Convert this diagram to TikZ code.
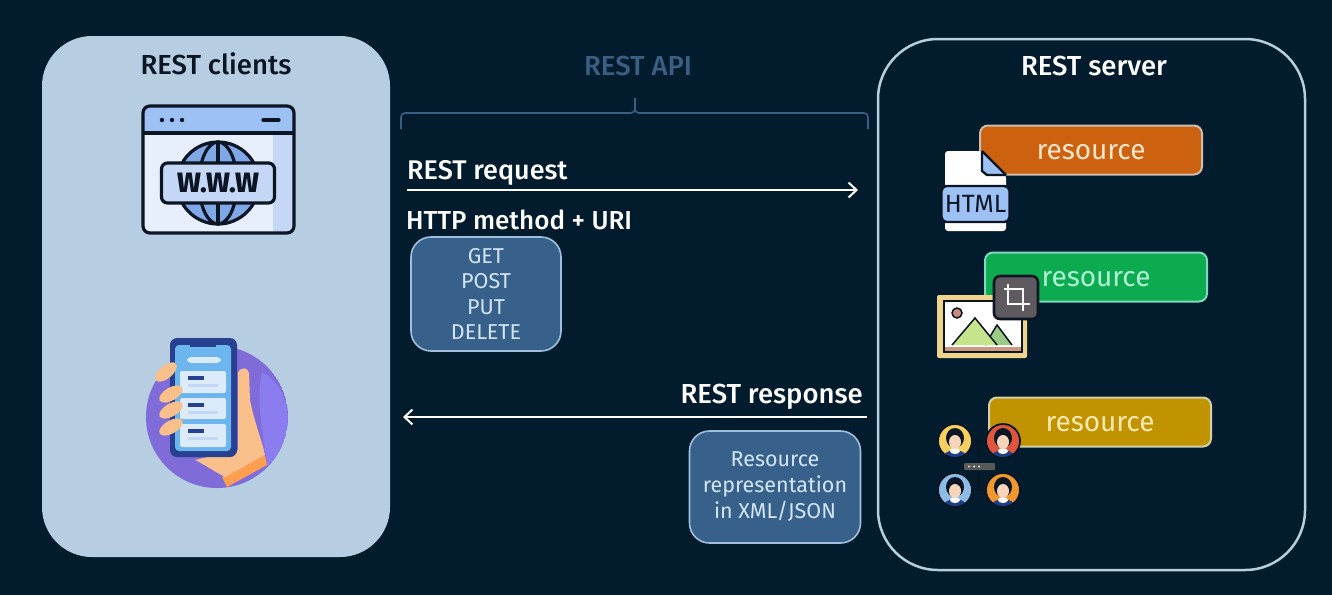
\documentclass[tikz,border=0pt]{standalone}
\usepackage{fontspec}
\usepackage{xcolor}
\usetikzlibrary{arrows.meta}
\setmainfont{Fira Sans Medium}
\newfontfamily\regularface{Fira Sans}
\definecolor{bgNavy}{HTML}{031C2D}
\definecolor{panelBlue}{HTML}{B6CDE2}
\definecolor{serverEdge}{HTML}{B4CFE2}
\definecolor{braceBlue}{HTML}{3A5F82}
\definecolor{boxBlue}{HTML}{37618B}
\definecolor{boxEdge}{HTML}{9FC0DC}
\definecolor{boxText}{HTML}{D3E6F6}
\definecolor{inkDark}{HTML}{0B1524}
\definecolor{barBlue}{HTML}{9DC1F5}
\definecolor{pageBlue}{HTML}{E8EFFC}
\definecolor{shadeBlue}{HTML}{C4D7F6}
\definecolor{globeBlue}{HTML}{7FA9E6}
\definecolor{orangeBox}{HTML}{CC6110}
\definecolor{orangeEdge}{HTML}{CBBDAF}
\definecolor{orangeText}{HTML}{FFE6CC}
\definecolor{greenBox}{HTML}{0CAB50}
\definecolor{greenEdge}{HTML}{7FD8C0}
\definecolor{greenText}{HTML}{B0F2D6}
\definecolor{goldBox}{HTML}{C29300}
\definecolor{goldEdge}{HTML}{CFD0AC}
\definecolor{goldText}{HTML}{FBE9B4}
\definecolor{purpleMain}{HTML}{7F6CD9}
\definecolor{purpleLight}{HTML}{8B7CF0}
\definecolor{phoneDark}{HTML}{27408F}
\definecolor{screenBlue}{HTML}{6DB5EE}
\definecolor{cardPale}{HTML}{DCEBFA}
\definecolor{handPeach}{HTML}{F9C08C}
\definecolor{sleeveOrange}{HTML}{FD9F50}
\definecolor{frameTan}{HTML}{F0D48C}
\definecolor{stripBrown}{HTML}{C99A80}
\definecolor{sunPink}{HTML}{C98A80}
\definecolor{mountGreen}{HTML}{C6E48C}
\definecolor{mountDeep}{HTML}{9CCB86}
\definecolor{badgeGray}{HTML}{5E5A60}
\definecolor{skinPale}{HTML}{F6D5BC}
\definecolor{shirtBlue}{HTML}{1E3F86}
\definecolor{personYellow}{HTML}{F5D060}
\definecolor{personRed}{HTML}{E0553D}
\definecolor{personBlue}{HTML}{8EBBE5}
\definecolor{personOrange}{HTML}{F0982E}

\tikzset{
    titletext/.style={font=\fontsize{27.5}{28}\selectfont, text=white},
    flowtext/.style={font=\fontsize{26}{28}\selectfont, text=white, inner sep=0pt},
    methodbox/.style={draw=boxEdge, fill=boxBlue, line width=1.6pt, rounded corners=20pt, text=boxText, align=center},
    flowarrow/.style={draw=white, line width=2pt, -{Straight Barb[length=8pt,width=15pt,line width=2pt]}},
    icon/.style={draw=inkDark, line width=3.2pt, line join=round}
}

\begin{document}
\begin{tikzpicture}[x=1pt,y=-1pt]

            \newcommand{\ResourceBox}[7]{%
                \node[
                    draw=#4,
                    fill=#3,
                    line width=2pt,
                    rounded corners=8pt,
                    text=#5,
                    minimum width=222pt,
                    minimum height=49pt,
                    text height=18pt,
                    text depth=0pt,
                    font=\regularface\fontsize{28}{28}\selectfont
                ] (#6) at (#1,#2) {#7};
            }
            \newcommand{\PersonIcon}[3]{%
                \fill[#3] (#1,#2) circle (17);
                \begin{scope}
                    \clip (#1,#2) circle (17);
                    \fill[shirtBlue] (#1,#2+17) ellipse (12 and 8);
                    \fill[white] (#1,#2+10) ellipse (5 and 3);
                \end{scope}
                \fill[inkDark] (#1,#2-3) ellipse (9 and 10);
                \fill[skinPale] (#1,#2+1) ellipse (6 and 7);
                \draw[inkDark, line width=1.8pt] (#1,#2) circle (17);
            }

            \fill[bgNavy] (0,0) rectangle (1332,595);
            \useasboundingbox (0,0) rectangle (1332,595);

            \fill[panelBlue, rounded corners=50pt] (42,36) rectangle (390,557);
            \draw[serverEdge, line width=2.5pt, rounded corners=60pt] (878,39) rectangle (1305,570);

            \node[titletext, text=inkDark] (clientsTitle) at (216,64) {REST clients};
            \node[titletext] (serverTitle) at (1094,66) {REST server};
            \node[titletext, text=braceBlue] (apiTitle) at (638,66) {REST API};

            \draw[braceBlue, line width=1.6pt, rounded corners=4pt]
                (401,129) -- (401,113) -- (635,113) -- (635,98);
            \draw[braceBlue, line width=1.6pt, rounded corners=4pt]
                (635,98) -- (635,113) -- (868,113) -- (868,129);

            \node[flowtext, anchor=west, font=\fontsize{27}{28}\selectfont] (requestLabel) at (407,173) {REST request};
            \coordinate (requestStart) at (407,190);
            \coordinate (requestEnd) at (858,190);
            \draw[flowarrow] (requestStart) -- (requestEnd);
            \node[flowtext, anchor=west] (methodLabel) at (406,220) {HTTP method + URI};

            \node[methodbox, minimum width=150pt, minimum height=114pt,
                font=\regularface\fontsize{21.5}{25.3}\selectfont] (methodBox) at (486,294)
                {GET\\POST\\PUT\\DELETE};

            \node[flowtext, anchor=east, font=\fontsize{27.5}{28}\selectfont] (responseLabel) at (863,397) {REST response};
            \coordinate (responseStart) at (867,417);
            \coordinate (responseEnd) at (403,417);
            \draw[flowarrow] (responseStart) -- (responseEnd);

            \node[methodbox, minimum width=171pt, minimum height=112pt,
                font=\regularface\fontsize{21.5}{26}\selectfont] (reprBox) at (775,487)
                {Resource\\representation\\in XML/JSON};

            % browser
            \begin{scope}
                \clip[rounded corners=7pt] (143,106) rectangle (294,233);
                \fill[pageBlue] (143,106) rectangle (294,233);
                \fill[shadeBlue] (273,133) rectangle (294,233);
                \fill[barBlue] (143,106) rectangle (294,133);
            \end{scope}
            \fill[globeBlue] (218,183) circle (41);
            \draw[icon] (143,133) -- (294,133);
            \draw[icon, rounded corners=7pt] (143,106) rectangle (294,233);
            \draw[icon] (218,183) circle (41);
            \draw[icon] (218,183) ellipse (19 and 41);
            \draw[icon] (218,142) -- (218,224);
            \foreach \dotx in {162,172,182} {
                \fill[inkDark] (\dotx,120) circle (2.2);
            }
            \draw[icon, line cap=round] (263,120) -- (279,120);
            \node[icon, fill=shadeBlue, rounded corners=6pt, minimum width=113pt, minimum height=40pt,
                text=inkDark, font=\fontsize{28}{28}\selectfont\bfseries] (wwwLabel) at (218,183) {W.W.W};

            % phone
            \begin{scope}
                \clip (217,417) circle (71);
                \fill[purpleMain] (217,417) circle (71);
                \fill[purpleLight] (262,372) .. controls (295,390) and (295,440) .. (268,470)
                    .. controls (262,430) and (256,400) .. (262,372) -- cycle;
                \fill[sleeveOrange] (265,455) -- (267,465) -- (227,487) -- (222,477) -- cycle;
            \end{scope}
            \fill[handPeach] (238,372) .. controls (241,367) and (248,367) .. (249,373)
                -- (250,400) .. controls (255,425) and (262,440) .. (265,455)
                -- (225,477) .. controls (212,470) and (200,462) .. (195,460) -- (238,450) -- cycle;
            \fill[phoneDark, rounded corners=7pt] (170,338) rectangle (237,457);
            \fill[screenBlue, rounded corners=4pt] (175,345) rectangle (231,451);
            \fill[phoneDark] (190,338) rectangle (216,347);
            \fill[cardPale, rounded corners=4pt] (187,357) rectangle (221,363);
            \foreach \cardy/\cardh in {371/393,398/419,424/447} {
                \fill[cardPale, rounded corners=2pt] (180,\cardy) rectangle (226,\cardh);
                \fill[phoneDark] (188,\cardy+5) rectangle (204,\cardy+9);
                \fill[shadeBlue] (188,\cardy+13) rectangle (218,\cardy+16);
            }
            \foreach \fingery/\fingerx/\fingerrot in {372/166/40,394/171/30,410/171/30,427/171/30} {
                \fill[handPeach, rotate around={\fingerrot:(\fingerx,\fingery)}] (\fingerx,\fingery) ellipse (13 and 6.5);
            }

            \ResourceBox{1091}{150}{orangeBox}{orangeEdge}{orangeText}{resourceOne}{resource}
            \ResourceBox{1096}{277}{greenBox}{greenEdge}{greenText}{resourceTwo}{resource}
            \ResourceBox{1100}{422}{goldBox}{goldEdge}{goldText}{resourceThree}{resource}

            % html file
            \fill[white, rounded corners=3pt] (982,151) -- (945,151) -- (945,231) -- (1006,231) -- (1006,175) -- cycle;
            \fill[barBlue] (982,151) -- (1006,175) -- (987,175) -- (982,171) -- cycle;
            \draw[inkDark, line width=2.4pt, line join=round] (982,151) -- (1006,175);
            \draw[inkDark, line width=2.4pt, line join=round] (982,151) -- (982,171) -- (987,175) -- (1006,175);
            \node[icon, line width=2.4pt, fill=barBlue, rounded corners=5pt, minimum width=68pt, minimum height=36pt,
                inner sep=0pt, text=inkDark, font=\regularface\fontsize{25}{26}\selectfont] (htmlLabel) at (975.5,204) {HTML};

            % picture
            \fill[frameTan, rounded corners=2pt] (937,295) rectangle (1027,358);
            \fill[white] (944,301) rectangle (1022,347);
            \fill[sunPink] (957,313) circle (5);
            \draw[inkDark, line width=1.5pt] (957,313) circle (5);
            \fill[mountDeep] (985,345) -- (997,325) -- (1012,345) -- cycle;
            \draw[inkDark, line width=1.5pt] (985,345) -- (997,325) -- (1012,345);
            \fill[mountGreen] (952,345) -- (975,318) -- (997,345) -- cycle;
            \draw[inkDark, line width=1.5pt] (952,345) -- (975,318) -- (997,345);
            \fill[stripBrown] (944,347) rectangle (1022,352);
            \draw[inkDark, line width=1.5pt] (944,301) rectangle (1022,352);
            \fill[badgeGray, rounded corners=6pt] (994,276) rectangle (1038,319);
            \draw[inkDark, line width=2.6pt, rounded corners=6pt] (994,276) rectangle (1038,319);
            \draw[white, line width=2pt] (1004,289) -- (1008,289) -- (1008,304) -- (1030,304);
            \draw[white, line width=2pt] (1008,284) -- (1008,289) -- (1023,289) -- (1023,311);

            % people
            \draw[inkDark, line width=1.6pt] (955,441) -- (979,441) -- (979,490) -- (955,490);
            \draw[inkDark, line width=1.6pt] (1003,441) -- (979,441);
            \draw[inkDark, line width=1.6pt] (1003,490) -- (979,490);
            \fill[gray!70!black, rounded corners=1pt] (964,463) rectangle (995,470);
            \foreach \hubx in {969,974,979} {
                \fill[white] (\hubx,466.5) circle (1);
            }
            \PersonIcon{955}{441}{personYellow}
            \PersonIcon{1003}{441}{personRed}
            \PersonIcon{955}{490}{personBlue}
            \PersonIcon{1003}{490}{personOrange}

        \end{tikzpicture}
\end{document}
